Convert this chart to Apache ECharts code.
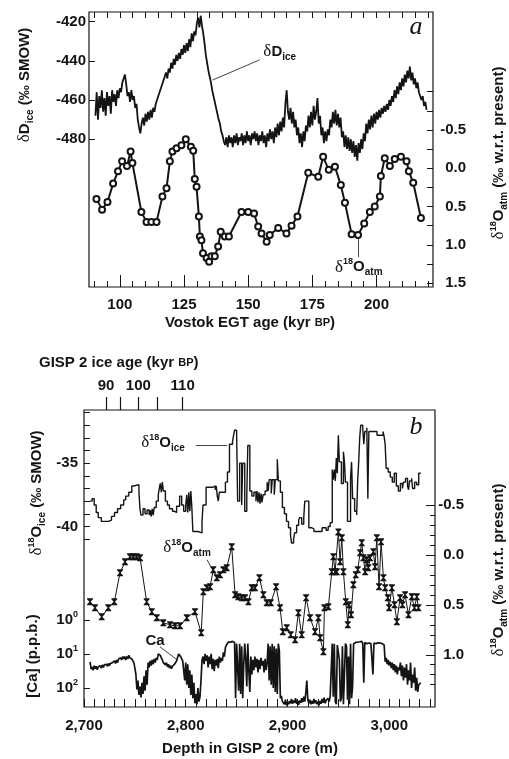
<!DOCTYPE html>
<html>
<head>
<meta charset="utf-8">
<script src="https://cdn.jsdelivr.net/npm/echarts@6/dist/echarts.min.js"></script>
<style>
  html, body { margin: 0; padding: 0; background: #fff; }
  #chart { width: 509px; height: 759px; }
</style>
</head>
<body>
<div id="chart"></div>
<script>
// ---- panel a : Vostok ----
var vostokTicks = [100, 125, 150, 175, 200];
var vostokMinor = [90, 95, 105, 110, 115, 120, 130, 135, 140, 145, 155, 160, 165, 170, 180, 185, 190, 195, 205, 210, 215, 220];
var dDTicks = [-480, -460, -440, -420];
var atmATicks = [-0.5, 0, 0.5, 1, 1.5];
var atmAMinor = [-1, -0.75, -0.5, -0.25, 0, 0.25, 0.5, 0.75, 1, 1.25, 1.5];

// [age kyr BP, dD permil]
var dDice = [
  [90.5,-468],[91,-456],[91.5,-470],[92,-458],[92.5,-464],[93,-455],[93.5,-466],[94,-459],[94.5,-468],[95,-456],
  [95.5,-463],[96,-458],[96.5,-467],[97,-455],[97.5,-461],[98,-457],[98.5,-463],[99,-455],[99.5,-459],[100,-454],
  [100.5,-456],[101,-451],[101.5,-449],[102,-447],[102.5,-452],[103,-458],[103.5,-456],[104,-461],[104.5,-455],[105,-460],
  [105.5,-458],[106,-464],[106.5,-462],[107,-470],[107.5,-474],[108,-477],[108.5,-472],[109,-469],[109.5,-473],[110,-467],
  [110.5,-471],[111,-466],[111.5,-470],[112,-465],[112.5,-469],[113,-464],[113.5,-466],[114,-462],[114.5,-463],[115,-458],
  [115.5,-459],[116,-454],[116.5,-455],[117,-450],[117.5,-451],[118,-446],[118.5,-449],[119,-444],[119.5,-446],[120,-441],
  [120.5,-444],[121,-439],[121.5,-442],[122,-437],[122.5,-440],[123,-436],[123.5,-439],[124,-434],[124.5,-437],[125,-432],
  [125.5,-436],[126,-431],[126.5,-435],[127,-429],[127.5,-433],[128,-426],[128.5,-430],[129,-425],[129.5,-427],[130,-421],
  [130.5,-418],[131,-423],[131.5,-417],[132,-422],[132.5,-426],[133,-431],[133.5,-437],[134,-441],[134.5,-445],[135,-448],
  [135.5,-451],[136,-455],[136.5,-458],[137,-461],[137.5,-464],[138,-467],[138.5,-470],[139,-472],[139.5,-476],[140,-478],
  [140.5,-481],[141,-483],[141.5,-479],[142,-484],[142.5,-478],[143,-482],[143.5,-479],[144,-484],[144.5,-478],[145,-482],
  [145.5,-477],[146,-483],[146.5,-479],[147,-481],[147.5,-477],[148,-483],[148.5,-478],[149,-482],[149.5,-476],[150,-481],
  [150.5,-478],[151,-483],[151.5,-477],[152,-480],[152.5,-476],[153,-481],[153.5,-477],[154,-483],[154.5,-478],[155,-481],
  [155.5,-476],[156,-482],[156.5,-478],[157,-484],[157.5,-477],[158,-481],[158.5,-475],[159,-480],[159.5,-476],[160,-482],
  [160.5,-474],[161,-479],[161.5,-472],[162,-478],[162.5,-471],[163,-476],[163.5,-469],[164,-474],[164.5,-462],[165,-455],
  [165.5,-466],[166,-470],[166.5,-464],[167,-472],[167.5,-466],[168,-474],[168.5,-470],[169,-478],[169.5,-474],[170,-482],
  [170.5,-477],[171,-484],[171.5,-476],[172,-481],[172.5,-473],[173,-476],[173.5,-468],[174,-474],[174.5,-466],[175,-473],
  [175.5,-463],[176,-470],[176.5,-466],[177,-459],[177.5,-472],[178,-468],[178.5,-478],[179,-474],[179.5,-482],[180,-476],
  [180.5,-481],[181,-475],[181.5,-478],[182,-470],[182.5,-474],[183,-466],[183.5,-472],[184,-465],[184.5,-473],[185,-467],
  [185.5,-474],[186,-469],[186.5,-479],[187,-476],[187.5,-484],[188,-478],[188.5,-485],[189,-479],[189.5,-486],[190,-480],
  [190.5,-487],[191,-481],[191.5,-489],[192,-483],[192.5,-491],[193,-482],[193.5,-487],[194,-480],[194.5,-485],[195,-477],
  [195.5,-481],[196,-472],[196.5,-477],[197,-470],[197.5,-475],[198,-468],[198.5,-474],[199,-467],[199.5,-472],[200,-466],
  [200.5,-470],[201,-465],[201.5,-469],[202,-464],[202.5,-467],[203,-463],[203.5,-466],[204,-462],[204.5,-465],[205,-460],
  [205.5,-463],[206,-458],[206.5,-461],[207,-455],[207.5,-459],[208,-453],[208.5,-457],[209,-451],[209.5,-455],[210,-449],
  [210.5,-453],[211,-447],[211.5,-451],[212,-445],[212.5,-449],[213,-443],[213.5,-450],[214,-446],[214.5,-452],[215,-449],
  [215.5,-454],[216,-451],[216.5,-456],[217,-455],[217.5,-460],[218,-458],[218.5,-463],[219,-461],[219.5,-465]
];

// [age kyr BP, d18O atm permil]
var o18AtmVostok = [
  [90.9,0.40],[93.1,0.54],[95.2,0.44],[97.4,0.20],[99.3,0.04],[100.9,-0.09],[102.8,-0.03],[104.2,-0.22],[104.9,-0.07],
  [108.4,0.57],[110.4,0.70],[112.3,0.70],[114.3,0.70],[116.6,0.37],[118.2,0.26],[119.5,-0.09],[120.5,-0.22],[122.1,-0.26],
  [124.0,-0.30],[125.7,-0.38],[127.7,-0.28],[128.6,-0.23],[129.2,0.14],[129.9,0.24],[130.8,0.63],[131.2,0.89],[131.8,0.94],
  [132.4,1.11],[133.8,1.17],[134.8,1.22],[135.7,1.15],[137.0,1.15],[138.3,1.02],[139.3,0.83],[140.9,0.89],[142.5,0.89],
  [147.4,0.57],[150.0,0.57],[152.3,0.59],[153.9,0.76],[155.2,0.85],[157.2,0.96],[158.4,0.87],[161.7,0.78],[164.9,0.85],
  [166.9,0.75],[169.2,0.63],[173.4,0.06],[177.3,0.11],[179.2,-0.15],[181.4,0.02],[183.8,-0.02],[186.1,0.22],[187.7,0.45],
  [190.3,0.86],[192.8,0.87],[195.2,0.72],[197.4,0.57],[199.3,0.50],[201.3,0.37],[201.7,0.10],[203.2,-0.13],[205.2,-0.03],
  [207.1,-0.12],[209.5,-0.15],[211.7,-0.09],[212.6,0.04],[214.3,0.19],[217.3,0.65]
];

// ---- panel b : GISP 2 ----
var depthTicks = [2700, 2800, 2900, 3000];
var depthMinor = [2710,2720,2730,2740,2750,2760,2770,2780,2790,2810,2820,2830,2840,2850,2860,2870,2880,2890,
  2910,2920,2930,2940,2950,2960,2970,2980,2990,3010,3020,3030,3040];
var gispAgeDepths = [2721.6, 2735.4, 2753.4, 2772.0, 2797.0];
var gispAgeLabelDepths = [2721.6, 2753.4, 2797.0];
var gispAgeLabels = ['90', '100', '110'];
var iceTicks = [-40, -35];
var iceMinor = [-31,-32,-33,-34,-35,-36,-37,-38,-39,-40,-41];
var caTicks = [0, 1, 2];
var atmBTicks = [-0.5, 0, 0.5, 1];
var atmBMinor = [-0.4,-0.3,-0.2,-0.1,0.1,0.2,0.3,0.4,0.6,0.7,0.8,0.9,1.1,1.2,1.3];

// [depth m, d18O ice permil] (step)
var o18Ice = [
  [2706,-38.0],[2708,-37.8],[2710,-38.3],[2712,-38.9],[2714,-39.3],[2717,-39.6],[2724,-39.5],[2727,-39.2],[2730,-38.9],
  [2733,-38.6],[2736,-38.3],[2739,-37.9],[2741,-37.6],[2744,-37.3],[2747,-36.8],[2749,-36.7],[2754,-37.3],[2755,-38.6],
  [2756,-39.1],[2758,-38.6],[2760,-39.0],[2762,-38.7],[2764,-39.1],[2765,-38.7],[2766,-39.2],[2767,-38.6],[2768,-39.1],
  [2769,-38.5],[2771,-38.0],[2773,-37.5],[2774,-37.0],[2775,-36.6],[2776,-37.3],[2777,-36.5],[2778,-37.2],[2780,-38.0],
  [2782,-38.3],[2784,-38.6],[2787,-38.8],[2789,-38.9],[2791,-38.4],[2794,-37.6],[2796,-38.3],[2798,-38.8],[2800,-38.3],
  [2801,-37.5],[2802,-38.9],[2803,-37.3],[2804,-38.8],[2805,-37.2],[2806,-38.5],[2807,-40.4],[2812,-40.5],[2816,-39.6],
  [2817,-38.3],[2820,-36.9],[2827,-36.8],[2829,-37.1],[2830,-36.8],[2831,-37.6],[2832,-38.0],[2833,-37.3],[2839,-36.5],
  [2841,-35.7],[2843,-33.5],[2846,-33.3],[2847,-32.8],[2848,-32.4],[2850,-32.6],[2851,-38.0],[2853,-35.0],[2855,-38.3],
  [2856,-35.0],[2858,-38.8],[2860,-37.5],[2861,-33.6],[2863,-37.2],[2865,-37.6],[2867,-37.3],[2869,-38.0],[2870,-37.2],
  [2871,-38.1],[2872,-37.3],[2873,-38.2],[2874,-37.4],[2875,-38.1],[2876,-37.5],[2878,-37.2],[2880,-36.5],[2881,-37.2],
  [2882,-36.3],[2884,-37.4],[2885,-36.3],[2887,-37.5],[2888,-36.3],[2890,-34.7],[2891,-36.4],[2893,-37.3],[2895,-38.5],
  [2897,-39.0],[2899,-39.6],[2901,-40.1],[2903,-40.7],[2904,-41.3],[2906,-41.0],[2907,-40.5],[2909,-39.9],[2911,-39.5],
  [2912,-39.3],[2914,-39.8],[2916,-39.3],[2917,-38.0],[2921,-40.1],[2924,-40.2],[2926,-40.4],[2930,-40.4],[2934,-40.1],
  [2938,-40.3],[2940,-40.0],[2942,-39.7],[2944,-35.5],[2945,-36.3],[2946,-35.5],[2947,-36.4],[2948,-34.6],[2949,-35.8],
  [2950,-32.8],[2951,-34.9],[2953,-36.6],[2955,-34.1],[2956,-34.9],[2957,-36.5],[2959,-39.6],[2962,-36.2],[2963,-34.9],
  [2964,-37.8],[2966,-38.8],[2968,-39.1],[2969,-36.4],[2970,-34.9],[2971,-33.0],[2972,-32.0],[2974,-32.3],[2975,-33.5],
  [2976,-32.5],[2978,-32.2],[2979,-37.8],[2980,-32.5],[2984,-32.5],[2988,-32.8],[2992,-32.8],[2994,-32.5],[2995,-32.9],
  [2996,-33.5],[2997,-35.4],[2999,-35.7],[3001,-36.1],[3003,-36.5],[3005,-35.8],[3007,-36.8],[3009,-37.2],[3011,-36.6],
  [3013,-37.0],[3014,-36.5],[3016,-36.2],[3018,-36.8],[3019,-37.1],[3020,-36.4],[3022,-36.2],[3023,-37.0],[3025,-36.5],
  [3027,-36.7],[3029,-35.8],[3031,-35.8]
];

// [depth m, d18O atm permil]
var o18AtmGisp = [
  [2705.9,0.47],[2710.8,0.53],[2717.4,0.62],[2723.9,0.53],[2729.8,0.47],[2735.4,0.18],[2740.3,0.07],[2745.2,0.02],
  [2748.5,0.02],[2751.8,0.02],[2755.1,0.03],[2761.6,0.47],[2766.6,0.57],[2771.5,0.63],[2778.0,0.68],[2784.6,0.70],
  [2789.5,0.71],[2794.4,0.71],[2801.0,0.63],[2809.1,0.57],[2815.2,0.78],[2817.3,0.37],[2820.6,0.33],[2823.9,0.32],
  [2827.1,0.15],[2830.5,0.23],[2833.7,0.20],[2837.0,0.15],[2840.3,0.13],[2845.2,-0.08],[2848.5,0.40],[2851.7,0.42],
  [2855.1,0.43],[2858.3,0.43],[2861.6,0.47],[2864.9,0.33],[2868.1,0.33],[2872.4,0.23],[2876.3,0.40],[2879.6,0.48],
  [2883.6,0.48],[2888.8,0.32],[2892.7,0.53],[2895.4,0.77],[2899.3,0.73],[2903.2,0.80],[2907.5,0.85],[2910.7,0.58],
  [2914.0,0.80],[2918.3,0.43],[2922.2,0.63],[2927.1,0.77],[2930.4,0.63],[2932.1,0.83],[2935.3,0.97],[2936.3,0.53],
  [2940.2,0.52],[2943.5,0.17],[2945.1,0.02],[2946.8,0.17],[2948.5,0.17],[2950.0,-0.23],[2951.7,0.07],[2953.4,-0.17],
  [2955.0,0.17],[2957.3,0.47],[2959.3,0.70],[2960.6,0.50],[2962.5,0.60],[2964.8,0.30],[2967.1,0.20],[2969.1,0.15],
  [2971.4,-0.02],[2973.0,-0.12],[2974.6,0.03],[2976.3,0.17],[2977.9,0.05],[2979.5,0.13],[2981.2,0.03],[2984.4,-0.03],
  [2986.1,0.12],[2987.8,-0.17],[2990.0,0.32],[2992.0,-0.13],[2994.3,0.23],[2996.0,0.33],[2998.6,0.43],[2999.9,0.53],
  [3002.6,0.33],[3005.2,0.50],[3007.5,0.67],[3010.7,0.43],[3013.0,0.50],[3015.6,0.40],[3018.9,0.60],[3022.2,0.42],
  [3024.8,0.53],[3027.1,0.42],[3028.7,0.53]
];

// [depth m, Ca p.p.b.]
var caPpb = [
  [2706,17],[2707,28],[2708,24],[2709,30],[2710,22],[2711,27],[2712,23],[2713,29],[2714,24],[2715,27],[2716,22],[2717,26],
  [2718,21],[2719,25],[2720,21],[2721,24],[2722,20],[2723,23],[2724,19],[2725,22],[2726,19],[2727,21],[2728,18],[2729,20],
  [2730,16],[2731,19],[2732,15],[2733,18],[2734,14],[2735,16],[2736,13],[2737,15],[2738,12],[2739,14],[2740,12],[2741,15],
  [2742,12],[2743,14],[2744,11],[2745,13],[2746,12],[2747,14],[2748,13],[2749,18],[2750,26],[2751,40],[2752,110],[2753,60],
  [2754,160],[2755,90],[2756,190],[2757,70],[2758,150],[2759,45],[2760,120],[2761,30],[2762,80],[2763,18],[2764,25],[2765,16],
  [2766,22],[2767,15],[2768,20],[2769,14],[2770,18],[2771,13],[2772,15],[2773,10],[2774,9],[2775,11],[2776,13],[2777,15],
  [2778,18],[2779,16],[2780,21],[2781,18],[2782,24],[2783,20],[2784,26],[2785,22],[2786,27],[2787,23],[2788,25],[2789,20],
  [2790,22],[2791,16],[2792,14],[2793,10],[2794,9],[2795,12],[2796,11],[2797,16],[2798,14],[2799,60],[2800,18],[2801,80],
  [2802,20],[2803,100],[2804,30],[2805,160],[2806,40],[2807,200],[2808,70],[2809,280],[2810,150],[2811,300],[2812,100],
  [2813,250],[2814,180],[2815,60],[2816,15],[2817,12],[2818,20],[2819,10],[2820,16],[2821,11],[2822,25],[2823,12],[2824,20],
  [2825,10],[2826,28],[2827,14],[2828,32],[2829,15],[2830,22],[2831,14],[2832,26],[2833,12],[2834,18],[2835,13],[2836,16],
  [2837,9],[2838,12],[2839,6.5],[2840,5.5],[2841,5],[2842,4.5],[2843,4.2],[2844,4.5],[2845,4],[2846,4.3],[2847,4],[2848,4.6],
  [2849,200],[2850,5],[2851,4.5],[2852,120],[2853,5],[2854,150],[2855,6],[2856,200],[2857,20],[2858,5],[2859,14],[2860,90],
  [2861,5],[2862,30],[2863,130],[2864,12],[2865,40],[2866,15],[2867,30],[2868,12],[2869,25],[2870,14],[2871,35],[2872,15],
  [2873,28],[2874,13],[2875,22],[2876,16],[2877,35],[2878,14],[2879,30],[2880,18],[2881,5],[2882,60],[2883,6],[2884,80],
  [2885,5],[2886,100],[2887,6],[2888,130],[2889,7],[2890,150],[2891,5],[2892,8],[2893,200],[2894,170],[2895,250],[2896,230],
  [2897,300],[2898,220],[2899,320],[2900,260],[2901,300],[2902,240],[2903,280],[2904,210],[2905,290],[2906,230],[2907,270],
  [2908,200],[2909,290],[2910,240],[2911,310],[2912,230],[2913,270],[2914,200],[2915,260],[2916,180],[2917,250],[2918,140],
  [2919,60],[2920,220],[2921,280],[2922,220],[2923,300],[2924,240],[2925,290],[2926,210],[2927,280],[2928,230],[2929,300],
  [2930,250],[2931,320],[2932,240],[2933,290],[2934,210],[2935,270],[2936,190],[2937,280],[2938,230],[2939,260],[2940,200],
  [2941,250],[2942,170],[2943,150],[2944,5],[2945,180],[2946,5],[2947,250],[2948,300],[2949,5.5],[2950,6],[2951,15],
  [2952,250],[2953,200],[2954,6],[2955,300],[2956,280],[2957,5],[2958,6],[2959,220],[2960,12],[2961,300],[2962,5],
  [2963,200],[2964,90],[2965,5],[2966,5.5],[2967,4.6],[2968,5],[2969,4.5],[2970,5],[2971,4.4],[2972,4.8],[2973,4.3],
  [2974,5],[2975,70],[2976,4.6],[2977,4.2],[2978,5],[2979,4.5],[2980,4.8],[2981,4.3],[2982,5],[2983,4.4],[2984,40],
  [2985,4.8],[2986,4.3],[2987,5],[2988,4.5],[2989,4.7],[2990,4.2],[2991,4.8],[2992,4.4],[2993,5],[2994,4.5],[2995,5.5],
  [2996,17],[2997,13],[2998,20],[2999,15],[3000,22],[3001,17],[3002,26],[3003,18],[3004,30],[3005,20],[3006,35],[3007,22],
  [3008,40],[3009,25],[3010,30],[3011,18],[3012,45],[3013,22],[3014,60],[3015,25],[3016,50],[3017,20],[3018,80],[3019,30],
  [3020,60],[3021,18],[3022,100],[3023,40],[3024,70],[3025,25],[3026,120],[3027,50],[3028,130],[3029,80],[3030,90],[3031,70]
];

var INK = '#141414';
var SANS = 'Liberation Sans';
var tickFont = { fontFamily: SANS, fontWeight: 'bold', fontSize: 15, color: INK };
var rich = {
  d: { fontFamily: 'Liberation Serif', fontSize: 17, color: INK, lineHeight: 20 },
  m: { fontFamily: SANS, fontWeight: 'bold', fontSize: 15, color: INK, lineHeight: 20 },
  sc: { fontFamily: SANS, fontWeight: 'bold', fontSize: 11, color: INK, lineHeight: 20 },
  sup: { fontFamily: SANS, fontWeight: 'bold', fontSize: 9, color: INK, lineHeight: 10, verticalAlign: 'top' },
  sub: { fontFamily: SANS, fontWeight: 'bold', fontSize: 10, color: INK, lineHeight: 10, verticalAlign: 'bottom' },
  b: { fontFamily: SANS, fontWeight: 'bold', fontSize: 15, color: INK, lineHeight: 20 }
};

function tickAxis(extra) {
  var base = {
    type: 'value', scale: true,
    axisLine: { show: false, onZero: false },
    splitLine: { show: false },
    axisLabel: { show: false },
    axisTick: { show: true, inside: true, length: 6, lineStyle: { color: INK, width: 1 } }
  };
  for (var k in extra) base[k] = extra[k];
  return base;
}
function comma(v) { return String(v).replace(/(\d)(\d{3})$/, '$1,$2'); }
var supDigits = ['0', '1', '2'];

function nameText(x, y, text, rot, align) {
  return {
    type: 'text', x: x, y: y, rotation: rot || 0, silent: true,
    style: { text: text, rich: rich, align: align || 'center', verticalAlign: 'middle', fill: INK,
      font: 'bold 15px ' + SANS }
  };
}
function arrowLine(from, to, head) {
  return {
    silent: true, symbol: ['none', head ? 'arrow' : 'none'], symbolSize: [0, 6],
    label: { show: false }, lineStyle: { color: INK, width: 0.8, type: 'solid' },
    data: [[{ coord: from }, { coord: to }]], animation: false
  };
}
function tag(coord, text) {
  return {
    silent: true, symbol: 'circle', symbolSize: 0,
    label: { show: true, position: 'inside', formatter: text, rich: rich },
    data: [{ coord: coord }], animation: false
  };
}

var chart = echarts.init(document.getElementById('chart'));
chart.setOption({
  animation: false,
  backgroundColor: '#fff',
  grid: [
    { left: 89, top: 12, width: 344, height: 275, show: true, borderColor: INK, borderWidth: 1.2, backgroundColor: 'transparent' },
    { left: 84, top: 410, width: 351, height: 297, show: true, borderColor: INK, borderWidth: 1.2, backgroundColor: 'transparent' }
  ],
  xAxis: [
    tickAxis({ gridIndex: 0, position: 'bottom', min: 88, max: 222,
      axisLabel: { show: true, customValues: vostokTicks, margin: 10, textStyle: tickFont },
      axisTick: { show: true, inside: true, length: 12, customValues: vostokTicks, lineStyle: { color: INK } } }),
    tickAxis({ gridIndex: 0, position: 'bottom', min: 88, max: 222,
      axisTick: { show: true, inside: true, length: 6, customValues: vostokMinor, lineStyle: { color: INK } } }),
    tickAxis({ gridIndex: 0, position: 'top', min: 88, max: 222,
      axisTick: { show: true, inside: true, length: 6, customValues: vostokMinor.concat(vostokTicks), lineStyle: { color: INK } } }),
    tickAxis({ gridIndex: 1, position: 'bottom', min: 2700, max: 3045,
      axisLabel: { show: true, customValues: depthTicks, margin: 11, formatter: comma, textStyle: tickFont },
      axisTick: { show: true, inside: true, length: 8, customValues: depthTicks.concat(depthMinor), lineStyle: { color: INK } } }),
    tickAxis({ gridIndex: 1, position: 'top', min: 2700, max: 3045,
      axisLabel: { show: true, customValues: gispAgeLabelDepths, margin: 17, textStyle: tickFont,
        formatter: function (v) { return gispAgeLabels[gispAgeLabelDepths.indexOf(v)]; } },
      axisTick: { show: true, inside: false, length: 13, customValues: gispAgeDepths, lineStyle: { color: INK, width: 1.2 } } })
  ],
  yAxis: [
    tickAxis({ gridIndex: 0, position: 'left', min: -555.4, max: -415.1,
      axisLabel: { show: true, customValues: dDTicks, margin: 3, textStyle: tickFont },
      axisTick: { show: true, inside: true, length: 6, customValues: dDTicks, lineStyle: { color: INK } } }),
    tickAxis({ gridIndex: 0, position: 'right', inverse: true, min: -2.04, max: 1.55,
      axisLabel: { show: true, customValues: atmATicks, margin: 33, align: 'right', textStyle: tickFont,
        formatter: function (v) { return v.toFixed(1); } },
      axisTick: { show: true, inside: true, length: 6, customValues: atmAMinor, lineStyle: { color: INK } } }),
    tickAxis({ gridIndex: 1, position: 'left', min: -54.26, max: -30.8,
      axisLabel: { show: true, customValues: iceTicks, margin: 6, textStyle: tickFont },
      axisTick: { show: true, inside: true, length: 6, customValues: iceMinor, lineStyle: { color: INK } } }),
    tickAxis({ gridIndex: 1, position: 'left', inverse: true, min: -6.15, max: 2.556,
      axisLabel: { show: true, customValues: caTicks, margin: 6, rich: rich,
        formatter: function (v) { return '{b|10}{sup|' + supDigits[v] + '}'; } },
      axisTick: { show: true, inside: true, length: 6, customValues: caTicks, lineStyle: { color: INK } } }),
    tickAxis({ gridIndex: 1, position: 'right', inverse: true, min: -1.45, max: 1.523,
      axisLabel: { show: true, customValues: atmBTicks, margin: 29, align: 'right', textStyle: tickFont,
        formatter: function (v) { return v.toFixed(1); } },
      axisTick: { show: true, inside: true, length: 9, customValues: atmBTicks, lineStyle: { color: INK } } }),
    tickAxis({ gridIndex: 1, position: 'right', inverse: true, min: -1.45, max: 1.523,
      axisTick: { show: true, inside: true, length: 5, customValues: atmBMinor, lineStyle: { color: INK } } })
  ],
  graphic: [
    nameText(25, 85, '{d|δ}{m|D}{sub|ice}{m| (‰ SMOW)}', Math.PI / 2),
    nameText(499, 153, '{d|δ}{sup|18}{m|O}{sub|atm}{m| (‰ w.r.t. present)}', Math.PI / 2),
    nameText(250, 323, '{m|Vostok EGT age (kyr }{sc|BP}{m|)}'),
    nameText(39, 363, '{m|GISP 2 ice age (kyr }{sc|BP}{m|)}', 0, 'left'),
    nameText(37, 493, '{d|δ}{sup|18}{m|O}{sub|ice}{m| (‰ SMOW)}', Math.PI / 2),
    nameText(33, 656, '{m|[Ca] (p.p.b.)}', Math.PI / 2),
    nameText(499, 570, '{d|δ}{sup|18}{m|O}{sub|atm}{m| (‰ w.r.t. present)}', Math.PI / 2),
    nameText(250, 749, '{m|Depth in GISP 2 core (m)}'),
    { type: 'text', x: 416, y: 27, silent: true,
      style: { text: 'a', fill: INK, font: 'italic 26px "Liberation Serif"', align: 'center', verticalAlign: 'middle' } },
    { type: 'text', x: 416, y: 427, silent: true,
      style: { text: 'b', fill: INK, font: 'italic 26px "Liberation Serif"', align: 'center', verticalAlign: 'middle' } }
  ],
  series: [
    { type: 'line', xAxisIndex: 0, yAxisIndex: 0, data: dDice, showSymbol: false, symbol: 'none',
      lineStyle: { color: INK, width: 1.8 }, z: 3,
      markLine: arrowLine([154.5, -439.5], [136.2, -449.8], true),
      markPoint: tag([162.3, -435.5], '{d|δ}{m|D}{sub|ice}') },
    { type: 'line', xAxisIndex: 0, yAxisIndex: 1, data: o18AtmVostok, symbol: 'emptyCircle', symbolSize: 6,
      lineStyle: { color: INK, width: 2 }, itemStyle: { color: INK, borderWidth: 0.7, borderColor: INK }, z: 4,
      markLine: arrowLine([192.9, 1.16], [192.9, 0.91], true),
      markPoint: tag([193.1, 1.29], '{d|δ}{sup|18}{m|O}{sub|atm}') },
    { type: 'line', xAxisIndex: 3, yAxisIndex: 2, data: o18Ice, step: 'end', symbol: 'none',
      lineStyle: { color: INK, width: 1.4 }, z: 3,
      markLine: arrowLine([2810, -33.56], [2840.6, -33.56], true),
      markPoint: tag([2777.7, -33.4], '{d|δ}{sup|18}{m|O}{sub|ice}') },
    { type: 'line', xAxisIndex: 3, yAxisIndex: 4, data: o18AtmGisp,
      symbol: 'path://M0,0L10,0L10,1.5L6,6L10,10.5L10,12L0,12L0,10.5L4,6L0,1.5Z', symbolSize: [6, 7],
      lineStyle: { color: INK, width: 1 }, itemStyle: { color: INK }, z: 4,
      markLine: arrowLine([2821, 0.05], [2827.5, 0.17], true),
      markPoint: tag([2801.3, -0.07], '{d|δ}{sup|18}{m|O}{sub|atm}') },
    { type: 'line', xAxisIndex: 3, yAxisIndex: 3,
      data: caPpb.map(function (p) { return [p[0], Math.log10(p[1])]; }), symbol: 'none',
      lineStyle: { color: INK, width: 1.7 }, z: 3,
      markLine: arrowLine([2774.7, Math.log10(6.2)], [2791.4, Math.log10(14.8)], true),
      markPoint: tag([2769.8, Math.log10(4.1)], '{m|Ca}') }
  ]
});
</script>
</body>
</html>
